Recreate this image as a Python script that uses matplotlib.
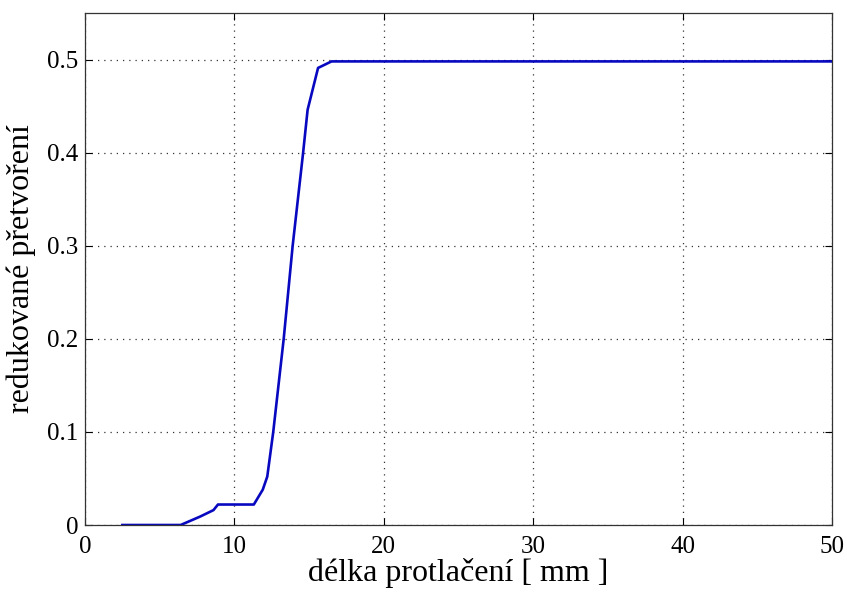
import matplotlib
matplotlib.use("Agg")
import matplotlib.pyplot as plt

# data
x_mm = [2.5, 6.4, 7.7, 8.6, 8.9, 11.3, 11.9, 12.2, 12.6, 13.3, 13.9, 14.6, 14.9, 15.6, 16.5, 50.0]
strain = [0.0, 0.0, 0.009, 0.016, 0.022, 0.022, 0.038, 0.052, 0.10, 0.20, 0.30, 0.40, 0.446, 0.491, 0.498, 0.498]

x_ticks = [0, 10, 20, 30, 40, 50]
y_ticks = [0, 0.1, 0.2, 0.3, 0.4, 0.5]
y_tick_labels = ["0", "0.1", "0.2", "0.3", "0.4", "0.5"]

plt.rcParams['font.family'] = ['Liberation Serif', 'DejaVu Serif']

fig = plt.figure(figsize=(8.47, 5.92), dpi=100)
ax = fig.add_axes([85/847, 1 - 525/592, (832 - 85)/847, (525 - 13)/592])

ax.plot(x_mm, strain, color='#0808c0', linewidth=1.9)

ax.set_xlim(0, 50)
ax.set_ylim(0, 0.55)
ax.set_xticks(x_ticks)
ax.set_yticks(y_ticks)
ax.set_yticklabels(y_tick_labels)
ax.tick_params(direction='in', length=5, width=0.8, labelsize=18,
               top=True, right=True)
ax.tick_params(axis='x', pad=8)
ax.tick_params(axis='y', pad=5)
ax.grid(True, linestyle=(0, (1, 4)), color='#333333', linewidth=0.9)
for s in ax.spines.values():
    s.set_color('#333333')
    s.set_linewidth(0.9)

ax.set_xlabel('délka protlačení [ mm ]', fontsize=23, labelpad=0)
ax.set_ylabel('redukované přetvoření', fontsize=23, labelpad=8)

fig.savefig('out.png', dpi=100)
